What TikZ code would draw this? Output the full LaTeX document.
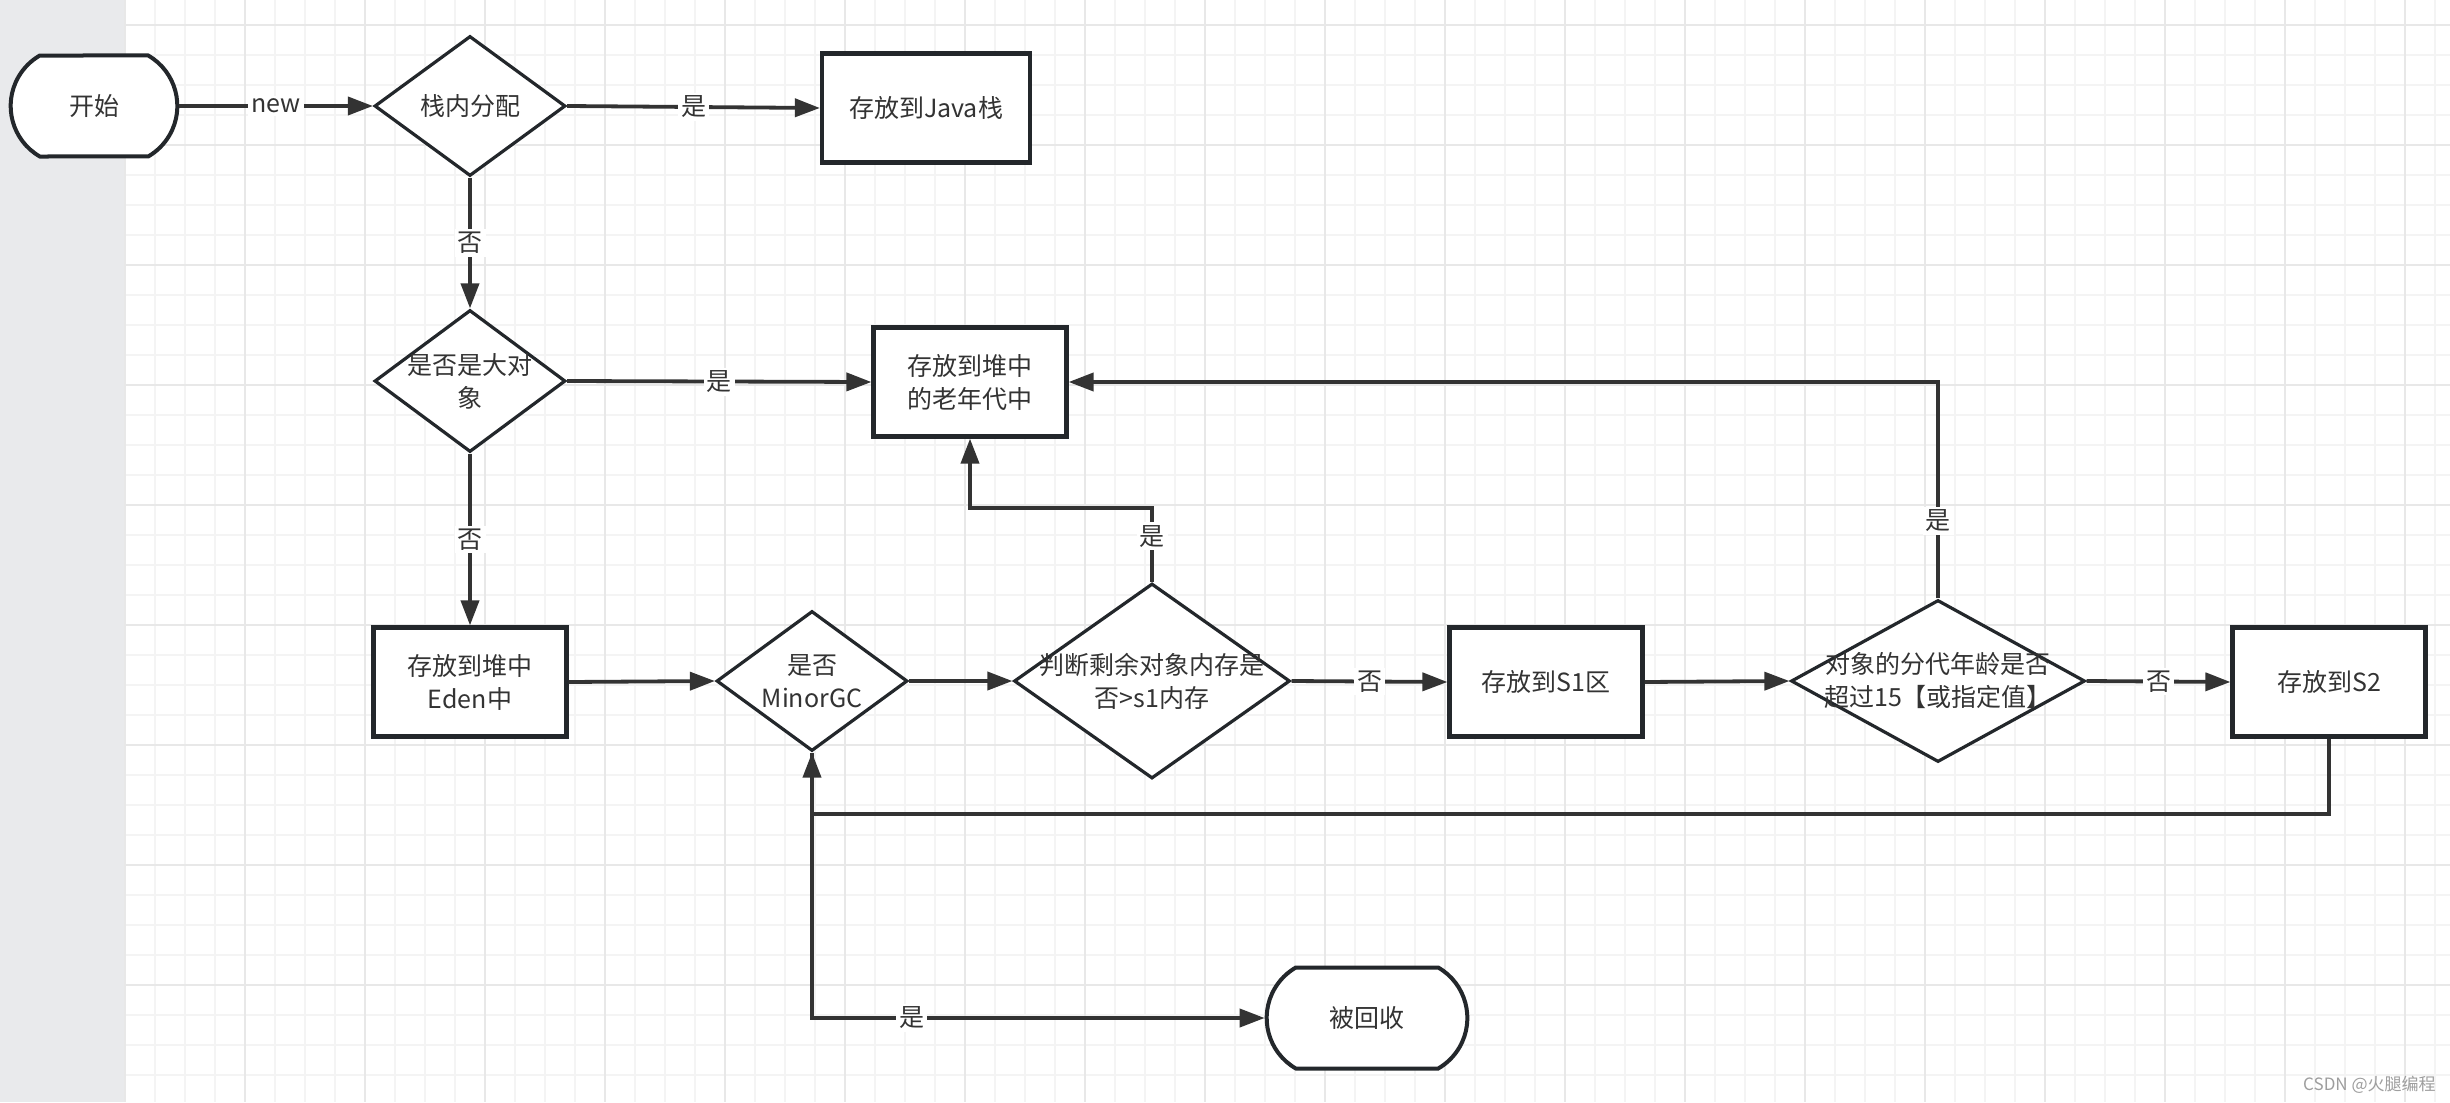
\documentclass[tikz,border=0pt]{standalone}
\usepackage{fontspec}
\setmainfont{Noto Sans CJK SC}
\usetikzlibrary{arrows.meta,shapes.geometric,shapes.misc}

\definecolor{panelgray}{RGB}{233,234,236}
\definecolor{minorgrid}{RGB}{244,244,244}
\definecolor{majorgrid}{RGB}{232,232,232}
\definecolor{boxline}{RGB}{35,39,43}
\definecolor{flowline}{RGB}{51,51,51}
\definecolor{txtgray}{RGB}{51,51,51}
\definecolor{markgray}{RGB}{158,158,158}

\tikzset{
  base/.style={font=\fontsize{12.5pt}{16.5pt}\selectfont, text=txtgray, align=center},
  process/.style={base, rectangle, draw=boxline, line width=2.1pt, fill=white, minimum width=96.5pt, minimum height=54.5pt},
  terminal/.style={base, rounded rectangle, rounded rectangle arc length=120, draw=boxline, line width=2pt, fill=white, minimum width=90pt, minimum height=50.5pt},
  decision/.style={diamond, draw=boxline, line width=1.6pt, fill=white, inner sep=0pt, minimum width=95.5pt, minimum height=70pt},
  flow/.style={draw=flowline, line width=1.9pt, -{Triangle[length=12.5pt,width=9pt]}},
  elabel/.style={base, fill=white, inner sep=1.5pt},
  watermarktext/.style={font=\fontsize{8.5pt}{10pt}\selectfont, text=markgray, inner sep=0pt}
}

\begin{document}
\begin{tikzpicture}[x=0.50pt,y=0.50pt,yscale=-1,xscale=1]
\useasboundingbox (0,0) rectangle (2450,1102);

%Canvas and side panel
\fill[white] (0,0) rectangle (2450,1102);
\fill[panelgray] (0,0) rectangle (125,1102);
%Grid
\foreach \gx in {125,155,...,2450} \draw[minorgrid, line width=0.75pt] (\gx,0) -- (\gx,1102);
\foreach \gy in {25,55,...,1102} \draw[minorgrid, line width=0.75pt] (125,\gy) -- (2450,\gy);
\foreach \gx in {125,245,...,2450} \draw[majorgrid, line width=1pt] (\gx,0) -- (\gx,1102);
\foreach \gy in {25,145,...,1102} \draw[majorgrid, line width=1pt] (125,\gy) -- (2450,\gy);

%Top row
\node[terminal] (start) at (94,106) {开始};
\node[decision, label={[base]center:栈内分配}] (alloc) at (470,106) {};
\node[process, minimum width=104pt] (javastack) at (926,108) {存放到Java栈};

%Middle row
\node[decision, minimum height=71pt, label={[base]center:{是否是大对\\象}}] (bigobj) at (470,381) {};
\node[process] (oldgen) at (970,382) {存放到堆中\\的老年代中};

%Bottom row
\node[process] (eden) at (470,682) {存放到堆中\\Eden中};
\node[decision, label={[base]center:{是否\\MinorGC}}] (minorgc) at (812,681) {};
\node[decision, minimum width=138pt, minimum height=97.5pt, label={[base]center:{判断剩余对象内存是\\否>s1内存}}] (judge) at (1152,681) {};
\node[process] (sone) at (1546,682) {存放到S1区};
\node[decision, minimum width=147pt, minimum height=81pt, label={[base]center:{对象的分代年龄是否\\超过15【或指定值】}}] (age) at (1938,681) {};
\node[process] (stwo) at (2329,682) {存放到S2};

%End
\node[terminal, minimum width=107pt] (recycle) at (1367,1018) {被回收};

%Connectors
\draw[flow] (start.east) -- node[elabel]{new} (alloc.west);
\draw[flow] (alloc.east) -- node[elabel]{是} (javastack.west);
\draw[flow] (alloc.south) -- node[elabel]{否} (bigobj.north);
\draw[flow] (bigobj.east) -- node[elabel]{是} (oldgen.west);
\draw[flow] (bigobj.south) -- node[elabel]{否} (eden.north);
\draw[flow] (eden.east) -- (minorgc.west);
\draw[flow] (minorgc.east) -- (judge.west);
\draw[flow] (judge.north) -- node[elabel, pos=0.62]{是} ++(0,-74) -| (oldgen.south);
\draw[flow] (judge.east) -- node[elabel]{否} (sone.west);
\draw[flow] (sone.east) -- (age.west);
\draw[flow] (age.north) |- node[elabel, pos=0.18]{是} (oldgen.east);
\draw[flow] (age.east) -- node[elabel]{否} (stwo.west);
\draw[flow] (stwo.south) -- ++(0,75) -| (minorgc.south);
\draw[flow] (minorgc.south) |- node[elabel, pos=0.61]{是} (recycle.west);

%Watermark
\node[watermarktext, anchor=east] (watermark) at (2436,1085) {CSDN @火腿编程};

\end{tikzpicture}
\end{document}
